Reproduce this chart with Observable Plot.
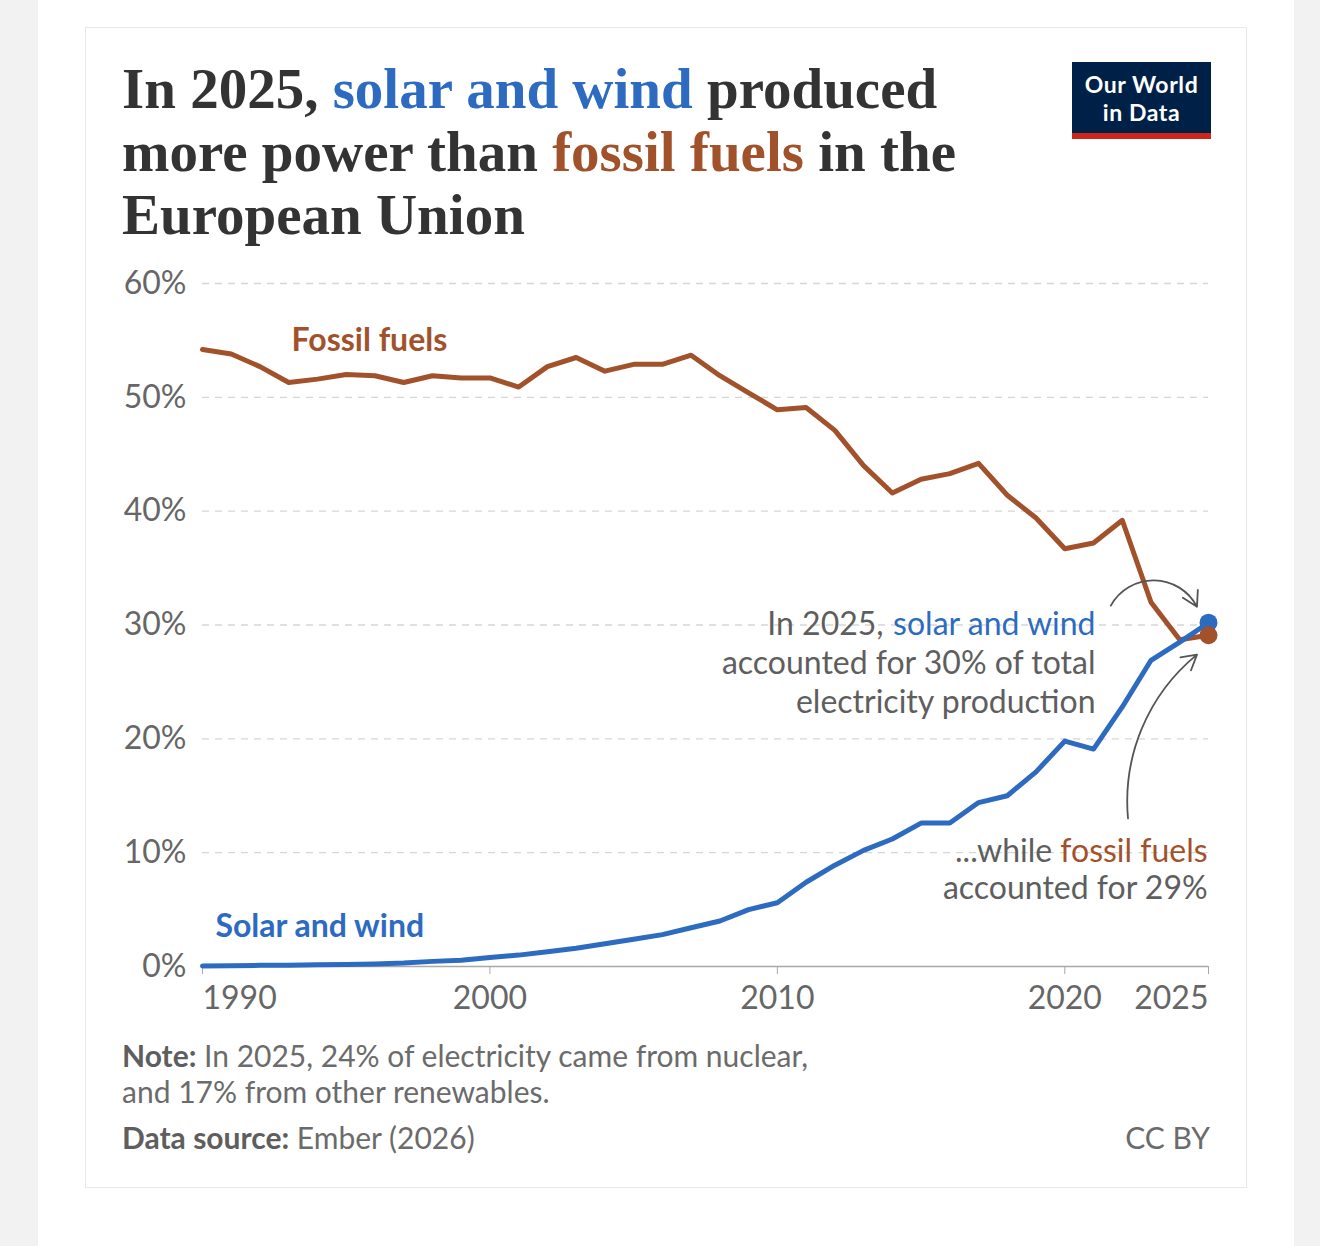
<!DOCTYPE html>
<html>
<head>
<meta charset="utf-8">
<script src="https://cdn.jsdelivr.net/npm/d3@7"></script>
<script src="https://cdn.jsdelivr.net/npm/@observablehq/plot@0.6"></script>
<style>
  html, body { margin: 0; padding: 0; }
  body { background: #f2f2f2; width: 1320px; height: 1246px; position: relative; overflow: hidden; font-family: Lato, "Noto Sans", sans-serif; }
  #page { position: absolute; left: 38px; top: 0; width: 1256px; height: 1246px; background: #fff; }
  #card { position: absolute; left: 85px; top: 27px; width: 1162px; height: 1161px; border: 1px solid #e8e8e8; box-sizing: border-box; background: #fff; }
  #title { position: absolute; left: 122px; top: 57px; font-family: "Liberation Serif", "DejaVu Serif", serif; font-weight: bold; font-size: 57px; line-height: 63px; color: #333; white-space: nowrap; }
  #title .sw { color: #2d6bc0; }
  #title .ff { color: #a2522b; }
  #logo { position: absolute; left: 1072px; top: 62px; width: 139px; height: 77px; background: #002147; box-sizing: border-box; border-bottom: 6px solid #ce261e; }
  .logoline { position: absolute; left: 0; width: 139px; text-align: center; color: #fff; font-family: Lato, sans-serif; font-weight: bold; font-size: 23px; letter-spacing: 0.6px; line-height: 27px; white-space: nowrap; }
  #chart { position: absolute; left: 100px; top: 260px; }
  .foot { position: absolute; font-family: Lato, sans-serif; font-size: 30px; line-height: 36px; color: #6b6b6b; white-space: nowrap; }
  .foot b { color: #5e5e5e; }
</style>
</head>
<body>
<div id="page"></div>
<div id="card"></div>
<div id="title">In 2025, <span class="sw">solar and wind</span> produced<br>more power than <span class="ff">fossil fuels</span> in the<br>European Union</div>
<div id="logo">
  <div class="logoline" style="top:9px;">Our World</div>
  <div class="logoline" style="top:37px;">in Data</div>
</div>
<div id="chart"></div>
<div class="foot" style="left:122px; top:1037px;"><b>Note:</b> In 2025, 24% of electricity came from nuclear,<br>and 17% from other renewables.</div>
<div class="foot" style="left:122px; top:1119px;"><b>Data source:</b> Ember (2026)</div>
<div class="foot" style="left:1000px; top:1119px; width:210px; text-align:right;">CC BY</div>
<script>
// ---- Data (share of EU electricity production, %) ----
const years = [1990,1991,1992,1993,1994,1995,1996,1997,1998,1999,
               2000,2001,2002,2003,2004,2005,2006,2007,2008,2009,
               2010,2011,2012,2013,2014,2015,2016,2017,2018,2019,
               2020,2021,2022,2023,2024,2025];
const fossilShare = [54.2,53.8,52.7,51.3,51.6,52.0,51.9,51.3,51.9,51.7,
                     51.7,50.9,52.7,53.5,52.3,52.9,52.9,53.7,51.9,50.4,
                     48.9,49.1,47.1,44.0,41.6,42.8,43.3,44.2,41.4,39.4,
                     36.7,37.2,39.2,32.0,28.7,29.1];
const solarWindShare = [0.05,0.07,0.1,0.12,0.15,0.18,0.22,0.3,0.45,0.55,
                        0.8,1.0,1.3,1.6,2.0,2.4,2.8,3.4,4.0,5.0,
                        5.6,7.4,8.9,10.2,11.2,12.6,12.6,14.4,15.0,17.1,
                        19.8,19.1,22.8,26.9,28.5,30.2];

// ---- Ticks ----
const yTicks = [0,10,20,30,40,50,60];
const xTicksMiddle = [2000,2010,2020];
const xTickFirst = [1990];
const xTickLast = [2025];

// ---- Labels & annotations ----
const seriesLabels = [
  {text: "Fossil fuels", x: 1993.1, y: 55.0, color: "#a2522b"},
  {text: "Solar and wind", x: 1990.45, y: 3.5, color: "#2d6bc0"}
];
const annoSolar = {x: 2021.07, lines: ["accounted for 30% of total", "electricity production"], ys: [26.6, 23.2], first: {pre: "In 2025,", hi: "solar and wind", y: 30.0}};
const annoFossil = {x: 2024.97, first: {pre: "...while", hi: "fossil fuels", y: 10.1}, lines: ["accounted for 29%"], ys: [6.8]};
const arrowsData = [
  {x1: 2021.6, y1: 31.7, x2: 2024.6, y2: 31.6, bend: 62},
  {x1: 2022.2, y1: 13.0, x2: 2024.6, y2: 27.4, bend: 28}
];

const BLUE = "#2d6bc0", BROWN = "#a2522b", GRAY = "#5e5e5e";
const FS = 32;

const rowsFF = years.map((yr, i) => ({year: yr, value: fossilShare[i], series: "Fossil fuels"}));
const rowsSW = years.map((yr, i) => ({year: yr, value: solarWindShare[i], series: "Solar and wind"}));
const last = years.length - 1;

const ctx = document.createElement("canvas").getContext("2d");
ctx.font = `${FS}px Lato`;
const w = s => ctx.measureText(s).width;

const plot = Plot.plot({
  width: 1130,
  height: 780,
  marginLeft: 102,
  marginRight: 22,
  marginTop: 23,
  marginBottom: 74,
  x: {domain: [1990, 2025], axis: null},
  y: {domain: [0, 60], axis: null},
  style: {fontFamily: "Lato, sans-serif", fontSize: FS + "px", color: "#666", background: "transparent", overflow: "visible"},
  marks: [
    Plot.gridY(yTicks.filter(d => d > 0), {stroke: "#d6d6d6", strokeOpacity: 1, strokeWidth: 1.3, strokeDasharray: "7,6"}),
    Plot.axisY(yTicks, {tickSize: 0, tickPadding: 16, tickFormat: d => d + "%", fontSize: FS, fill: "#666", textAnchor: "end"}),
    Plot.ruleY([0], {stroke: "#a8a8a8", strokeWidth: 1.5}),
    Plot.axisX(xTicksMiddle, {tickSize: 8, tickPadding: 12, tickFormat: d => String(d), stroke: "#a8a8a8", fill: "#666", fontSize: FS}),
    Plot.axisX(xTickFirst, {tickSize: 8, tickPadding: 12, tickFormat: d => String(d), stroke: "#a8a8a8", fill: "#666", fontSize: FS, textAnchor: "start"}),
    Plot.axisX(xTickLast, {tickSize: 8, tickPadding: 12, tickFormat: d => String(d), stroke: "#a8a8a8", fill: "#666", fontSize: FS, textAnchor: "end"}),
    Plot.line(rowsFF, {x: "year", y: "value", stroke: BROWN, strokeWidth: 5, curve: "linear"}),
    Plot.line(rowsSW, {x: "year", y: "value", stroke: BLUE, strokeWidth: 5, curve: "linear"}),
    Plot.dot([rowsSW[last]], {x: "year", y: "value", r: 9, fill: BLUE}),
    Plot.dot([rowsFF[last]], {x: "year", y: "value", r: 9, fill: BROWN}),
    Plot.text(seriesLabels, {x: "x", y: "y", text: "text", fill: d => d.color, textAnchor: "start", fontWeight: "bold", fontSize: FS}),
    // solar annotation
    Plot.text([annoSolar.first], {x: () => annoSolar.x, y: "y", text: "hi", fill: BLUE, textAnchor: "end", fontSize: FS}),
    Plot.text([annoSolar.first], {x: () => annoSolar.x, y: "y", text: "pre", fill: GRAY, textAnchor: "end", fontSize: FS, dx: -(w(annoSolar.first.hi) + w(" "))}),
    Plot.text(annoSolar.lines, {x: () => annoSolar.x, y: (d, i) => annoSolar.ys[i], text: d => d, fill: GRAY, textAnchor: "end", fontSize: FS}),
    // fossil annotation
    Plot.text([annoFossil.first], {x: () => annoFossil.x, y: "y", text: "hi", fill: BROWN, textAnchor: "end", fontSize: FS}),
    Plot.text([annoFossil.first], {x: () => annoFossil.x, y: "y", text: "pre", fill: GRAY, textAnchor: "end", fontSize: FS, dx: -(w(annoFossil.first.hi) + w(" "))}),
    Plot.text(annoFossil.lines, {x: () => annoFossil.x, y: (d, i) => annoFossil.ys[i], text: d => d, fill: GRAY, textAnchor: "end", fontSize: FS}),
    Plot.arrow([arrowsData[0]], {x1: "x1", y1: "y1", x2: "x2", y2: "y2", bend: arrowsData[0].bend, stroke: "#555", strokeWidth: 1.8, headLength: 14}),
    Plot.arrow([arrowsData[1]], {x1: "x1", y1: "y1", x2: "x2", y2: "y2", bend: arrowsData[1].bend, stroke: "#555", strokeWidth: 1.8, headLength: 14})
  ]
});
document.getElementById("chart").appendChild(plot);
</script>
</body>
</html>
